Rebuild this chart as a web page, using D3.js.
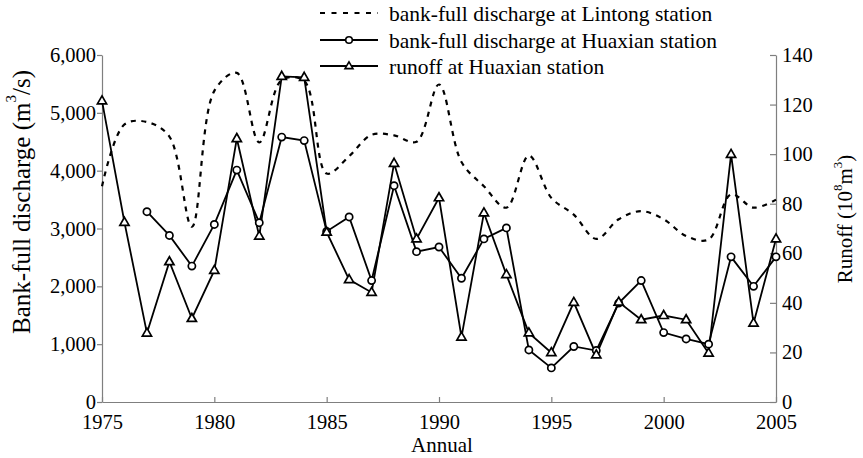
<!DOCTYPE html>
<html>
<head>
<meta charset="utf-8">
<script src="https://cdn.jsdelivr.net/npm/d3@7/dist/d3.min.js"></script>
<style>
  html, body { margin: 0; padding: 0; background: #fff; }
  svg { display: block; }
  svg text { font-family: 'Liberation Serif', 'Times New Roman', Tinos, 'DejaVu Serif', serif; }
</style>
</head>
<body>
<svg id="chart" width="863" height="458"></svg>
<script>
// Annual series, 1975–2005
const years = d3.range(1975, 2006);

// Bank-full discharge at Lintong station (m^3/s)
const lintong = [3730, 4800, 4840, 4590, 3030, 5380, 5690, 4490, 5570, 5550,
                 3950, 4250, 4620, 4610, 4500, 5490, 4150, 3730, 3360, 4260,
                 3530, 3240, 2820, 3160, 3300, 3160, 2870, 2810, 3590, 3360, 3500];

// Bank-full discharge at Huaxian station (m^3/s); no record for 1975–1976
const huaxian = [null, null, 3290, 2880, 2350, 3070, 4010, 3100, 4580, 4520,
                 2950, 3200, 2100, 3740, 2600, 2680, 2140, 2820, 3010, 900,
                 590, 960, 890, 1710, 2100, 1200, 1090, 1000, 2510, 2000, 2510];

// Runoff at Huaxian station (10^8 m^3)
const runoff = [121.5, 72.5, 27.8, 56.6, 33.7, 53.1, 106.3, 66.9, 131.4, 131.0,
                68.5, 49.4, 44.2, 96.3, 65.8, 82.4, 26.2, 76.3, 51.4, 27.9,
                19.9, 40.2, 19.0, 40.3, 33.2, 34.9, 33.2, 19.7, 99.9, 31.8, 65.8];

const xTicks = [1975, 1980, 1985, 1990, 1995, 2000, 2005];
const leftTicks = [0, 1000, 2000, 3000, 4000, 5000, 6000];
const rightTicks = [0, 20, 40, 60, 80, 100, 120, 140];

const legendLabels = [
  "bank-full discharge at Lintong station",
  "bank-full discharge at Huaxian station",
  "runoff at Huaxian station"
];

const svg = d3.select("#chart");
const axisColor = "#7f7f7f";
const fontSize = 20.5;
const serif = "'Liberation Serif', 'Times New Roman', Tinos, 'DejaVu Serif', serif";

const x = d3.scaleLinear().domain([1975, 2005]).range([102, 776]);
const yL = d3.scaleLinear().domain([0, 6000]).range([402, 55]);
const yR = d3.scaleLinear().domain([0, 140]).range([402, 55]);

function styleAxis(g) {
  g.attr("font-family", serif).attr("font-size", fontSize);
  g.selectAll("path, line").attr("stroke", axisColor).attr("stroke-width", 1.2);
  g.selectAll("text").attr("fill", "#000");
}

// Bottom axis, ticks pointing into the plot
svg.append("g")
  .attr("transform", "translate(0,402)")
  .call(d3.axisBottom(x).tickValues(xTicks).tickFormat(d3.format("d"))
    .tickSizeInner(-5).tickSizeOuter(0).tickPadding(12))
  .call(styleAxis);

// Left axis, ticks pointing outward
svg.append("g")
  .attr("transform", "translate(102,0)")
  .call(d3.axisLeft(yL).tickValues(leftTicks).tickFormat(d3.format(","))
    .tickSizeInner(5).tickSizeOuter(0).tickPadding(1))
  .call(styleAxis);

// Right axis, ticks pointing inward
svg.append("g")
  .attr("transform", "translate(776,0)")
  .call(d3.axisRight(yR).tickValues(rightTicks).tickFormat(d3.format("d"))
    .tickSizeInner(-6).tickSizeOuter(0).tickPadding(6))
  .call(styleAxis);

// Axis titles
svg.append("text")
  .attr("x", 442).attr("y", 452)
  .attr("text-anchor", "middle").attr("font-size", 21).attr("font-family", serif)
  .text("Annual");

const leftTitle = svg.append("text")
  .attr("transform", "translate(21,202) rotate(-90)")
  .attr("text-anchor", "middle").attr("dominant-baseline", "central")
  .attr("font-size", 25).attr("font-family", serif);
leftTitle.append("tspan").text("Bank-full discharge (m");
leftTitle.append("tspan").attr("font-size", 15).attr("dy", -10).text("3");
leftTitle.append("tspan").attr("dy", 10).text("/s)");

const rightTitle = svg.append("text")
  .attr("transform", "translate(845,219) rotate(-90)")
  .attr("text-anchor", "middle").attr("dominant-baseline", "central")
  .attr("font-size", 21).attr("font-family", serif);
rightTitle.append("tspan").text("Runoff (10");
rightTitle.append("tspan").attr("font-size", 13).attr("dy", -8).text("8");
rightTitle.append("tspan").attr("dy", 8).text("m");
rightTitle.append("tspan").attr("font-size", 13).attr("dy", -8).text("3");
rightTitle.append("tspan").attr("dy", 8).text(")");

// Series data as point lists
const lintongPts = years.map((yr, i) => ({ yr, v: lintong[i] }));
const huaxianPts = years.map((yr, i) => ({ yr, v: huaxian[i] }));
const runoffPts = years.map((yr, i) => ({ yr, v: runoff[i] }));

// Lintong: smoothed dashed curve
svg.append("path")
  .datum(lintongPts)
  .attr("fill", "none").attr("stroke", "#000")
  .attr("stroke-width", 2.2).attr("stroke-dasharray", "5,5.5")
  .attr("d", d3.line().x(d => x(d.yr)).y(d => yL(d.v)).curve(d3.curveCatmullRom.alpha(0.5)));

// Huaxian bank-full discharge: solid line with circles
svg.append("path")
  .datum(huaxianPts)
  .attr("fill", "none").attr("stroke", "#000").attr("stroke-width", 1.8)
  .attr("d", d3.line().defined(d => d.v != null).x(d => x(d.yr)).y(d => yL(d.v)));

// Runoff: solid line with triangles
svg.append("path")
  .datum(runoffPts)
  .attr("fill", "none").attr("stroke", "#000").attr("stroke-width", 1.8)
  .attr("d", d3.line().x(d => x(d.yr)).y(d => yR(d.v)));

const triPath = "M0,-5L4.6,3L-4.6,3Z";

svg.append("g").selectAll("circle")
  .data(huaxianPts.filter(d => d.v != null))
  .join("circle")
  .attr("cx", d => x(d.yr)).attr("cy", d => yL(d.v)).attr("r", 3.6)
  .attr("fill", "#fff").attr("stroke", "#000").attr("stroke-width", 1.7);

svg.append("g").selectAll("path")
  .data(runoffPts)
  .join("path")
  .attr("transform", d => `translate(${x(d.yr)},${yR(d.v)})`)
  .attr("d", triPath)
  .attr("fill", "#fff").attr("stroke", "#000").attr("stroke-width", 1.7);

// Legend
const legend = svg.append("g");
const rowsY = [13, 40, 66];
const lx0 = 320, lx1 = 378, lxm = 349;

legendLabels.forEach((label, i) => {
  const row = legend.append("g").attr("transform", `translate(0,${rowsY[i]})`);
  const line = row.append("line")
    .attr("x1", lx0).attr("x2", lx1).attr("y1", 0).attr("y2", 0)
    .attr("stroke", "#000");
  if (i === 0) {
    line.attr("stroke-width", 2.2).attr("stroke-dasharray", "5,6.5");
  } else {
    line.attr("stroke-width", 1.8);
  }
  if (i === 1) {
    row.append("circle").attr("cx", lxm).attr("cy", 0).attr("r", 3.3)
      .attr("fill", "#fff").attr("stroke", "#000").attr("stroke-width", 1.6);
  }
  if (i === 2) {
    row.append("path").attr("transform", `translate(${lxm},0)`)
      .attr("d", "M0,-4.2L4,2.6L-4,2.6Z")
      .attr("fill", "#fff").attr("stroke", "#000").attr("stroke-width", 1.6);
  }
  row.append("text")
    .attr("x", 389).attr("y", 0).attr("dy", "0.35em")
    .attr("font-size", 21.5).attr("font-family", serif)
    .text(label);
});
</script>
</body>
</html>
